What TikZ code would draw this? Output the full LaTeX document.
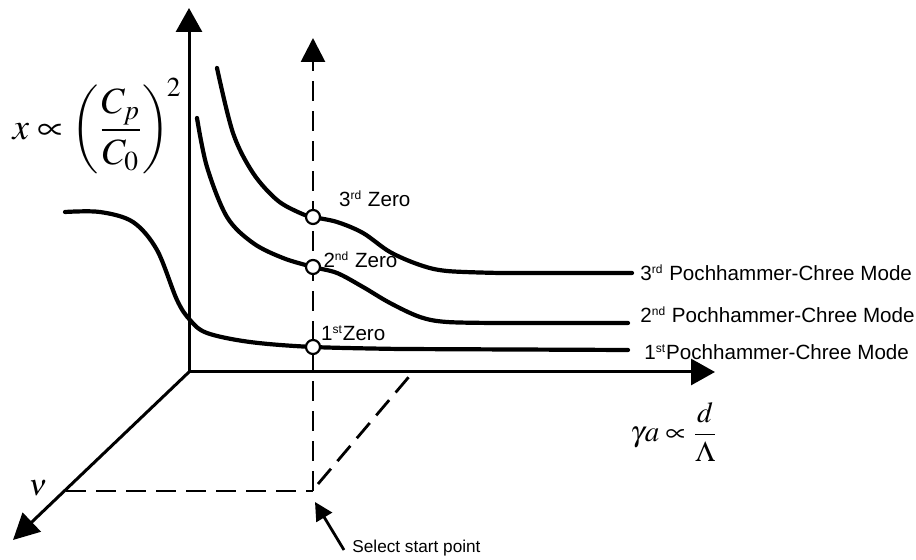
\documentclass[tikz,border=0pt]{standalone}
\usepackage{mathptmx}
\usepackage[no-math]{fontspec}
\setmainfont{Liberation Sans}
\usetikzlibrary{positioning,arrows.meta}
\newcommand{\ordsup}[1]{\textsuperscript{\fontsize{6}{6}\selectfont #1}}

\begin{document}
\begin{tikzpicture}[
    x=0.5pt,y=-0.5pt,
    axis/.style={line width=1.5pt,-{Triangle[length=12pt,width=13pt]}},
    guide/.style={line width=1.4pt,dash pattern=on 10pt off 5pt},
    mode/.style={line width=2.1pt,line cap=round},
    zero/.style={circle,draw,line width=1.1pt,fill=white,inner sep=0pt,minimum size=7pt},
    lbl/.style={font=\fontsize{10.3}{12}\selectfont,inner sep=1pt},
    ptr/.style={line width=1.4pt,-{Triangle[length=9pt,width=9pt]}}
]
\useasboundingbox (0,0) rectangle (916,560);

% axes
\coordinate (O) at (189,372);
\coordinate (ytip) at (189,8);
\coordinate (xtip) at (715,372);
\coordinate (vtip) at (13,540);
\draw[axis] (O) -- (ytip);
\draw[axis] (O) -- (xtip);
\draw[axis,-{Triangle[length=13pt,width=13pt]}] (O) -- (vtip);

% start point and guides
\coordinate (sp) at (313,491);
\coordinate (dtop) at (313,38);
\coordinate (vmid) at (66,491);
\coordinate (xmid) at (413,372);
\draw[guide,-{Triangle[length=12pt,width=12pt]}] (sp) -- (dtop);
\draw[guide] (vmid) -- (sp);
\draw[guide] (318,484) -- (xmid);

% modes
\draw[mode] plot[smooth,tension=0.55] coordinates {(217,68) (233,133) (253,173) (277,200) (300,213) (313,217) (337,222) (363,233) (390,252) (420,265) (447,271) (500,273)} -- (632,273) coordinate (e3);
\draw[mode] plot[smooth,tension=0.55] coordinates {(197,118) (207,167) (227,217) (253,243) (283,258) (313,267) (337,273) (363,287) (390,303) (420,317) (447,322) (500,323)} -- (628,323) coordinate (e2);
\draw[mode] plot[smooth,tension=0.55] coordinates {(65,212) (100,212) (133,222) (157,250) (177,300) (190,320) (207,333) (250,342) (313,347) (400,349)} -- (628,350) coordinate (e1);

% zeros
\node[zero] (z3) at (313,217) {};
\node[zero] (z2) at (313,267) {};
\node[zero] (z1) at (313,347) {};
\node[lbl,above right=1pt and 9pt of z3] {3\ordsup{rd} Zero};
\node[lbl,right=0pt of z2,yshift=3.5pt] {2\ordsup{nd} Zero};
\node[lbl,above right=-1pt and 0pt of z1] {1\ordsup{st}Zero};

% mode labels
\node[lbl,right=3pt of e3] {3\ordsup{rd} Pochhammer-Chree Mode};
\node[lbl,right=5pt of e2,yshift=4pt] {2\ordsup{nd} Pochhammer-Chree Mode};
\node[lbl,right=7pt of e1,yshift=-1pt] {1\ordsup{st}Pochhammer-Chree Mode};

% axis labels
\node[font=\fontsize{18.5}{20}\selectfont] (ylab) at (97,126) {$\displaystyle x \propto \left(\frac{C_p}{C_0}\right)^{\!2}$};
\node[font=\fontsize{14.5}{16}\selectfont] (xlab) at (674,432) {$\displaystyle \gamma a \propto \frac{d}{\rule{0pt}{11pt}\Lambda}$};
\node[font=\fontsize{15}{16}\selectfont] (vlab) at (38,488) {$\nu$};

% start point
\node[lbl,font=\fontsize{8.6}{10}\selectfont,anchor=west] (sel) at (350,548) {Select start point};
\coordinate (selTip) at (315,502);
\draw[ptr] ([xshift=-3pt,yshift=-1pt]sel.west) -- (selTip);
\end{tikzpicture}
\end{document}
